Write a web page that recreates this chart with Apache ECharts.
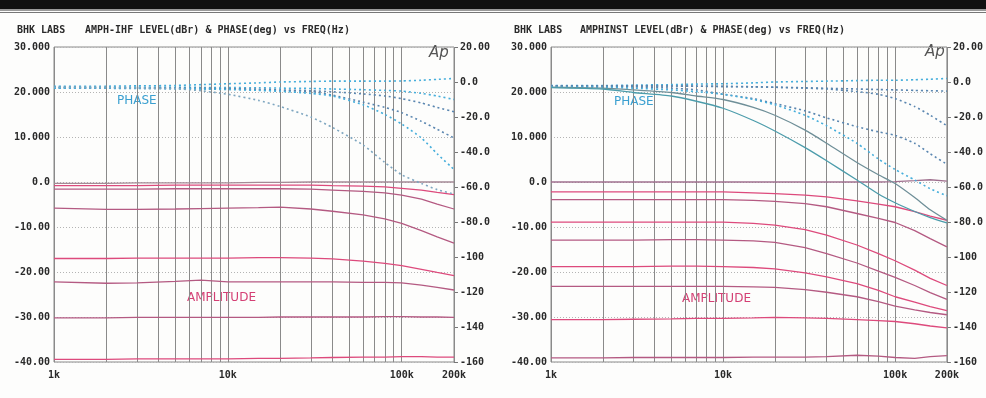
<!DOCTYPE html>
<html>
<head>
<meta charset="utf-8">
<script src="https://cdn.jsdelivr.net/npm/echarts@6.0.0/dist/echarts.min.js"></script>
<style>
  html, body { margin: 0; padding: 0; background: #fdfdfc; }
  #chart { width: 986px; height: 398px; }
</style>
</head>
<body>
<div id="chart"></div>
<script>
// sweep frequencies (Hz), shared by every trace
const freqs = [1000, 2000, 3000, 5000, 7000, 10000, 15000, 20000, 30000, 40000, 60000, 80000, 100000, 130000, 160000, 200000]

// vertical grid lines and x labels
const gridFreqs = [1000, 2000, 3000, 4000, 5000, 6000, 7000, 8000, 9000, 10000,
  20000, 30000, 40000, 50000, 60000, 70000, 80000, 90000, 100000, 200000]
const xTickVals = [1000, 10000, 100000, 200000]
const xTickText = ['1k', '10k', '100k', '200k']

// left axis (dBr) and right axis (deg) tick labels, bottom to top
const levelTicks = ['-40.00', '-30.00', '-20.00', '-10.00', '0.0', '10.000', '20.000', '30.000']
const phaseTicks = ['-160', '-140', '-120', '-100', '-80.0', '-60.0', '-40.0', '-20.0', '0.0', '20.00']

// ---- AMPH-IHF : level (dBr)
const ihfLevel1 = [-0.3, -0.3, -0.2, -0.2, -0.2, -0.2, -0.1, -0.1, 0, 0, 0, 0, 0, 0, 0, 0]
const ihfLevel2 = [-0.8, -0.8, -0.8, -0.7, -0.7, -0.7, -0.7, -0.7, -0.7, -0.8, -0.9, -1.1, -1.4, -1.8, -2.3, -2.8]
const ihfLevel3 = [-1.6, -1.6, -1.6, -1.5, -1.5, -1.5, -1.5, -1.5, -1.6, -1.8, -2.1, -2.4, -2.9, -3.8, -4.9, -6.0]
const ihfLevel4 = [-5.8, -6.1, -6.1, -6.0, -5.9, -5.8, -5.7, -5.6, -6.0, -6.5, -7.3, -8.2, -9.2, -10.8, -12.2, -13.6]
const ihfLevel5 = [-17.0, -17.0, -16.9, -16.9, -16.9, -16.9, -16.8, -16.8, -16.9, -17.1, -17.6, -18.1, -18.6, -19.4, -20.1, -20.8]
const ihfLevel6 = [-22.2, -22.5, -22.4, -22.1, -21.8, -22.2, -22.2, -22.2, -22.2, -22.2, -22.3, -22.3, -22.4, -22.9, -23.4, -24.0]
const ihfLevel7 = [-30.2, -30.2, -30.1, -30.1, -30.1, -30.1, -30.1, -30.0, -30.0, -30.0, -30.0, -29.9, -29.9, -30.0, -30.0, -30.1]
const ihfLevel8 = [-39.4, -39.4, -39.3, -39.3, -39.3, -39.3, -39.2, -39.2, -39.1, -39.0, -38.9, -38.9, -38.8, -38.8, -38.9, -38.9]

// ---- AMPH-IHF : phase (deg)
const ihfPhase1 = [-2.5, -2.4, -2.2, -2.0, -1.5, -1.0, -0.5, 0, 0.3, 0.5, 0.5, 0.5, 0.6, 1.0, 1.5, 2.0]
const ihfPhase2 = [-3.0, -3.0, -3.0, -3.0, -3.1, -3.2, -3.3, -3.5, -3.7, -4.0, -4.4, -4.8, -5.2, -6.5, -8.0, -10.0]
const ihfPhase3 = [-3.2, -3.3, -3.4, -3.5, -3.6, -3.8, -4.1, -4.5, -5.0, -5.6, -6.8, -8.0, -9.5, -12.0, -14.5, -17.0]
const ihfPhase4 = [-3.5, -3.5, -3.6, -3.7, -3.8, -4.0, -4.5, -5.0, -5.4, -7.5, -11.5, -14.5, -17.5, -22.5, -27.0, -32.0]
const ihfPhase5 = [-3.5, -3.6, -3.7, -3.8, -4.0, -4.3, -4.8, -5.3, -6.5, -8.0, -13.0, -18.5, -24.0, -32.0, -41.0, -50.0]
const ihfPhase6 = [-3.0, -3.1, -3.3, -3.8, -5.0, -7.0, -10.5, -14.0, -20.0, -26.0, -36.0, -46.0, -53.0, -58.0, -61.5, -64.0]

// ---- AMPHINST : level (dBr)
const instLevel1 = [0, 0, 0, 0, 0, 0, 0, 0, 0, 0, 0, 0, 0.1, 0.3, 0.5, 0.2]
const instLevel2 = [-2.2, -2.2, -2.2, -2.2, -2.2, -2.2, -2.4, -2.6, -2.9, -3.3, -4.2, -4.9, -5.5, -6.6, -7.6, -8.5]
const instLevel3 = [-3.9, -3.9, -3.9, -3.9, -3.9, -3.9, -4.1, -4.3, -4.8, -5.5, -7.0, -8.1, -9.0, -10.8, -12.6, -14.4]
const instLevel4 = [-8.9, -8.9, -8.9, -8.9, -8.9, -8.9, -9.2, -9.6, -10.6, -11.8, -14.0, -15.9, -17.5, -19.6, -21.4, -23.0]
const instLevel5 = [-12.9, -12.9, -12.9, -12.8, -12.8, -12.9, -13.1, -13.4, -14.6, -15.9, -18.0, -19.8, -21.2, -23.0, -24.6, -26.1]
const instLevel6 = [-18.8, -18.8, -18.8, -18.7, -18.7, -18.8, -19.0, -19.3, -20.2, -21.1, -22.6, -24.1, -25.5, -26.7, -27.7, -28.6]
const instLevel7 = [-23.2, -23.2, -23.2, -23.2, -23.2, -23.2, -23.3, -23.4, -23.9, -24.5, -25.5, -26.6, -27.6, -28.4, -29.0, -29.5]
const instLevel8 = [-30.6, -30.6, -30.5, -30.4, -30.3, -30.3, -30.2, -30.1, -30.2, -30.3, -30.6, -30.8, -31.0, -31.5, -32.0, -32.4]
const instLevel9 = [-39.1, -39.1, -39.0, -39.0, -39.0, -39.0, -38.9, -38.9, -38.9, -38.8, -38.5, -38.7, -39.0, -39.2, -38.8, -38.6]

// ---- AMPHINST : phase (deg)
const instPhase1 = [-2.0, -2.0, -1.8, -1.5, -1.2, -1.0, -0.5, 0, 0.3, 0.5, 0.8, 1.0, 1.0, 1.3, 1.6, 2.0]
const instPhase2 = [-2.2, -2.2, -2.2, -2.3, -2.4, -2.6, -2.8, -3.0, -3.3, -3.6, -4.0, -4.3, -4.5, -4.8, -5.0, -5.2]
const instPhase3 = [-2.2, -2.2, -2.2, -2.3, -2.4, -2.5, -2.7, -3.0, -3.5, -4.0, -5.5, -7.0, -9.5, -14.0, -19.0, -25.0]
const instPhase4 = [-2.5, -2.6, -2.8, -3.5, -4.5, -7.0, -9.5, -12.3, -16.5, -20.5, -25.5, -28.5, -30.5, -35.0, -41.0, -47.0]
const instPhase5 = [-2.8, -3.0, -3.5, -4.5, -5.5, -7.0, -10.0, -13.0, -19.0, -25.0, -35.0, -44.0, -50.0, -56.0, -61.0, -65.0]
const instPhase6 = [-3.0, -3.5, -4.5, -6.0, -8.0, -10.0, -14.5, -19.0, -27.5, -35.0, -46.0, -53.0, -58.0, -66.0, -73.0, -79.0]
const instPhase7 = [-3.2, -4.0, -6.0, -8.0, -11.0, -15.0, -22.0, -28.0, -37.5, -45.0, -56.0, -64.0, -69.0, -74.0, -77.5, -80.5]

const PINK = '#dd4a7c'
const MAUVE = '#b45a82'
const CYAN = '#46aedb'
const BLUE = '#5a86b0'
const TEAL = '#4c9cab'

function toPairs(vals) {
  return freqs.map(function (f, i) { return [f, vals[i]] })
}

function levelSeries(vals, idx, color) {
  return {
    type: 'line', xAxisIndex: idx, yAxisIndex: idx * 2,
    data: toPairs(vals), symbol: 'none', silent: true,
    lineStyle: { color: color, width: 1.3 }
  }
}

function phaseSeries(vals, idx, color, solid) {
  return {
    type: 'line', xAxisIndex: idx, yAxisIndex: idx * 2 + 1,
    data: toPairs(vals), symbol: 'none', silent: true, smooth: 0.2,
    lineStyle: { color: color, width: solid ? 1.3 : 1.6, type: solid ? 'solid' : [2, 3] }
  }
}

const monoFont = { fontFamily: 'DejaVu Sans Mono', fontWeight: 'bold', fontSize: 10, color: '#2a2a2a' }

function xAxisFor(idx) {
  return {
    type: 'log', logBase: 10, gridIndex: idx, min: 1000, max: 200000,
    position: 'bottom',
    axisLine: { show: false, onZero: false },
    splitLine: { show: false },
    minorTick: { show: false },
    axisTick: {
      show: true, inside: true, length: 315, customValues: gridFreqs,
      lineStyle: { color: '#8a8a8a', width: 1 }
    },
    axisLabel: Object.assign({
      margin: 8, customValues: xTickVals,
      formatter: function (v) {
        let k = xTickVals.indexOf(Math.round(v))
        return k >= 0 ? xTickText[k] : ''
      }
    }, monoFont)
  }
}

function yAxesFor(idx) {
  return [
    {
      type: 'value', gridIndex: idx, position: 'left', min: -40, max: 30, interval: 10,
      axisLine: { show: false }, axisTick: { show: false },
      splitLine: { show: true, lineStyle: { color: '#b4b4b4', type: [1, 2], width: 1 } },
      axisLabel: Object.assign({
        margin: 4,
        formatter: function (v) { return levelTicks[Math.round((v + 40) / 10)] }
      }, monoFont)
    },
    {
      type: 'value', gridIndex: idx, position: 'right', min: -160, max: 20, interval: 20,
      alignTicks: false,
      axisLine: { show: false },
      axisTick: { show: true, length: 4, lineStyle: { color: '#777' } },
      splitLine: { show: false },
      axisLabel: Object.assign({
        margin: 6,
        formatter: function (v) { return phaseTicks[Math.round((v + 160) / 20)] }
      }, monoFont)
    }
  ]
}

let chart = echarts.init(document.getElementById('chart'))

let option = {
  backgroundColor: '#fdfdfc',
  animation: false,
  title: [
    { text: 'BHK LABS', left: 12, top: 20, textStyle: monoFont },
    { text: 'AMPH-IHF LEVEL(dBr) & PHASE(deg) vs FREQ(Hz)', left: 80, top: 20, textStyle: monoFont },
    { text: 'BHK LABS', left: 509, top: 20, textStyle: monoFont },
    { text: 'AMPHINST LEVEL(dBr) & PHASE(deg) vs FREQ(Hz)', left: 575, top: 20, textStyle: monoFont }
  ],
  grid: [
    { left: 54, right: 532, top: 47, bottom: 36, show: true, borderColor: '#8a8a8a', borderWidth: 1, backgroundColor: 'transparent' },
    { left: 551, right: 38, top: 47, bottom: 36, show: true, borderColor: '#8a8a8a', borderWidth: 1, backgroundColor: 'transparent' }
  ],
  xAxis: [xAxisFor(0), xAxisFor(1)],
  yAxis: yAxesFor(0).concat(yAxesFor(1)),
  graphic: [
    { type: 'rect', left: 0, top: 0, shape: { width: 986, height: 9 }, style: { fill: '#111' } },
    { type: 'rect', left: 0, top: 9, shape: { width: 986, height: 2 }, style: { fill: '#9a9a9a' } },
    { type: 'rect', left: 0, top: 12, shape: { width: 986, height: 1 }, style: { fill: '#777' } },
    { type: 'text', left: 429, top: 46, style: { text: 'Ap', font: 'italic 15px "DejaVu Sans"', fill: '#555' } },
    { type: 'text', left: 925, top: 45, style: { text: 'Ap', font: 'italic 15px "DejaVu Sans"', fill: '#555' } },
    { type: 'text', left: 117, top: 95, style: { text: 'PHASE', font: '12px "DejaVu Sans"', fill: '#3a9fd0' } },
    { type: 'text', left: 614, top: 96, style: { text: 'PHASE', font: '12px "DejaVu Sans"', fill: '#3a9fd0' } },
    { type: 'text', left: 187, top: 292, style: { text: 'AMPLITUDE', font: '12px "DejaVu Sans"', fill: '#d43f74' } },
    { type: 'text', left: 682, top: 293, style: { text: 'AMPLITUDE', font: '12px "DejaVu Sans"', fill: '#d43f74' } }
  ],
  series: [
    levelSeries(ihfLevel1, 0, '#a58a96'),
    levelSeries(ihfLevel2, 0, PINK),
    levelSeries(ihfLevel3, 0, MAUVE),
    levelSeries(ihfLevel4, 0, MAUVE),
    levelSeries(ihfLevel5, 0, PINK),
    levelSeries(ihfLevel6, 0, MAUVE),
    levelSeries(ihfLevel7, 0, MAUVE),
    levelSeries(ihfLevel8, 0, PINK),
    phaseSeries(ihfPhase1, 0, CYAN),
    phaseSeries(ihfPhase2, 0, CYAN),
    phaseSeries(ihfPhase3, 0, BLUE),
    phaseSeries(ihfPhase4, 0, BLUE),
    phaseSeries(ihfPhase5, 0, CYAN),
    phaseSeries(ihfPhase6, 0, '#7ea6c0'),

    levelSeries(instLevel1, 1, '#a0708e'),
    levelSeries(instLevel2, 1, PINK),
    levelSeries(instLevel3, 1, MAUVE),
    levelSeries(instLevel4, 1, PINK),
    levelSeries(instLevel5, 1, MAUVE),
    levelSeries(instLevel6, 1, PINK),
    levelSeries(instLevel7, 1, MAUVE),
    levelSeries(instLevel8, 1, PINK),
    levelSeries(instLevel9, 1, MAUVE),
    phaseSeries(instPhase1, 1, CYAN),
    phaseSeries(instPhase2, 1, BLUE),
    phaseSeries(instPhase3, 1, BLUE),
    phaseSeries(instPhase4, 1, BLUE),
    phaseSeries(instPhase5, 1, CYAN),
    phaseSeries(instPhase6, 1, '#6f8f98', true),
    phaseSeries(instPhase7, 1, TEAL, true)
  ]
}

chart.setOption(option)
</script>
</body>
</html>
